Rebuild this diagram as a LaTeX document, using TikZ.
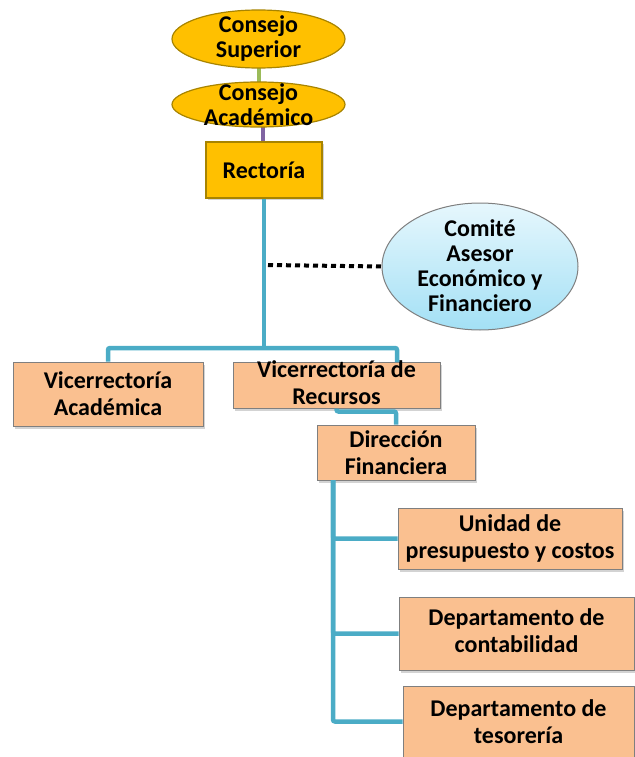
\documentclass[tikz,border=0pt]{standalone}
\usepackage{fontspec}
\setmainfont{Carlito}
\usetikzlibrary{shapes.geometric,shadows}
\definecolor{gold}{HTML}{FFC000}
\definecolor{goldline}{HTML}{A88400}
\definecolor{peach}{HTML}{FAC090}
\definecolor{boxline}{HTML}{7F7F7F}
\definecolor{linkblue}{HTML}{4BACC6}
\definecolor{linkgreen}{HTML}{9BBB59}
\definecolor{linkpurple}{HTML}{8064A2}
\definecolor{skytop}{HTML}{E6F7FD}
\definecolor{skybot}{HTML}{A3E0F5}
\tikzset{
  lbl/.style={font=\fontsize{24}{27}\selectfont\bfseries, align=center, inner sep=0pt},
  lbltight/.style={font=\fontsize{24}{25}\selectfont\bfseries, align=center, inner sep=0pt},
  goldell/.style={ellipse, draw=goldline, line width=1.2pt, fill=gold, inner sep=0pt},
  goldbox/.style={rectangle, draw=goldline, line width=1.2pt, fill=gold, inner sep=0pt,
    drop shadow={shadow xshift=2pt, shadow yshift=-2pt, opacity=0.35}},
  peachbox/.style={rectangle, draw=boxline, line width=1pt, fill=peach, inner sep=0pt,
    drop shadow={shadow xshift=2pt, shadow yshift=-3pt, opacity=0.35}},
  skyell/.style={ellipse, draw=boxline, line width=1pt, top color=skytop, bottom color=skybot, inner sep=0pt},
  conn/.style={draw=linkblue, line width=4.5pt, rounded corners=2pt},
}
\begin{document}
\begin{tikzpicture}[x=1pt,y=-1pt]
\useasboundingbox (0,0) rectangle (634,757);
% top chain
\draw[linkgreen, line width=4pt] (258.5,60) -- (258.5,90);
\draw[linkpurple, line width=4pt] (263,120) -- (263,148);
\node[goldell, minimum width=173pt, minimum height=58pt] (CS) at (258.5,39) {};
\node[lbltight] (CSt) at (258.5,38) {Consejo\\Superior};
\node[goldell, minimum width=173pt, minimum height=45pt] (CA) at (258.5,104.5) {};
\node[lbltight] (CAt) at (258.5,105) {Consejo\\Académico};
\node[goldbox, minimum width=116pt, minimum height=56pt] (R) at (264,170) {};
\node[lbl] (Rt) at (R) {Rectoría};
% comite
\node[skyell, minimum width=196pt, minimum height=127pt] (CO) at (480,266.5) {};
\node[lbltight] (COt) at (480,266) {Comité\\Asesor\\Económico y\\Financiero};
% level 2
\node[peachbox, minimum width=190pt, minimum height=64pt] (VA) at (108,394) {};
\node[lbl] (VAt) at (VA) {Vicerrectoría\\Académica};
\node[peachbox, minimum width=207pt, minimum height=46pt] (VR) at (336.5,385) {};
\node[lbl] (VRt) at (336.5,383) {Vicerrectoría de\\Recursos};
\node[peachbox, minimum width=158pt, minimum height=55pt] (DF) at (396,452.5) {};
\node[lbl] (DFt) at (DF) {Dirección\\Financiera};
\node[peachbox, minimum width=224pt, minimum height=61pt] (U) at (510,538.5) {};
\node[lbl] (Ut) at (U) {Unidad de\\presupuesto y costos};
\node[peachbox, minimum width=235pt, minimum height=73pt] (DC) at (516.5,633.5) {};
\node[lbl] (DCt) at (516.5,631) {Departamento de\\contabilidad};
\node[peachbox, minimum width=231pt, minimum height=71pt] (DT) at (518.5,721.5) {};
\node[lbl] (DTt) at (518.5,722) {Departamento de\\tesorería};
% connectors
\coordinate (j1) at (264,348);
\coordinate (vrtop) at (397,362);
\coordinate (dot) at (268,265);
\coordinate (dfv) at (333,480);
\draw[conn] (R.south) -- (j1);
\draw[conn] (VA.north) |- (j1) -| (vrtop);
\draw[conn] (VR.south) -- ++(0,3) -| (DF.north);
\draw[conn] (dfv) |- (U.west);
\draw[conn] (dfv) |- (DC.west);
\draw[conn] (dfv) |- (DT.west);
\draw[black, line width=4pt, dash pattern=on 5pt off 4pt] (dot) -- (CO.west);
\end{tikzpicture}
\end{document}
